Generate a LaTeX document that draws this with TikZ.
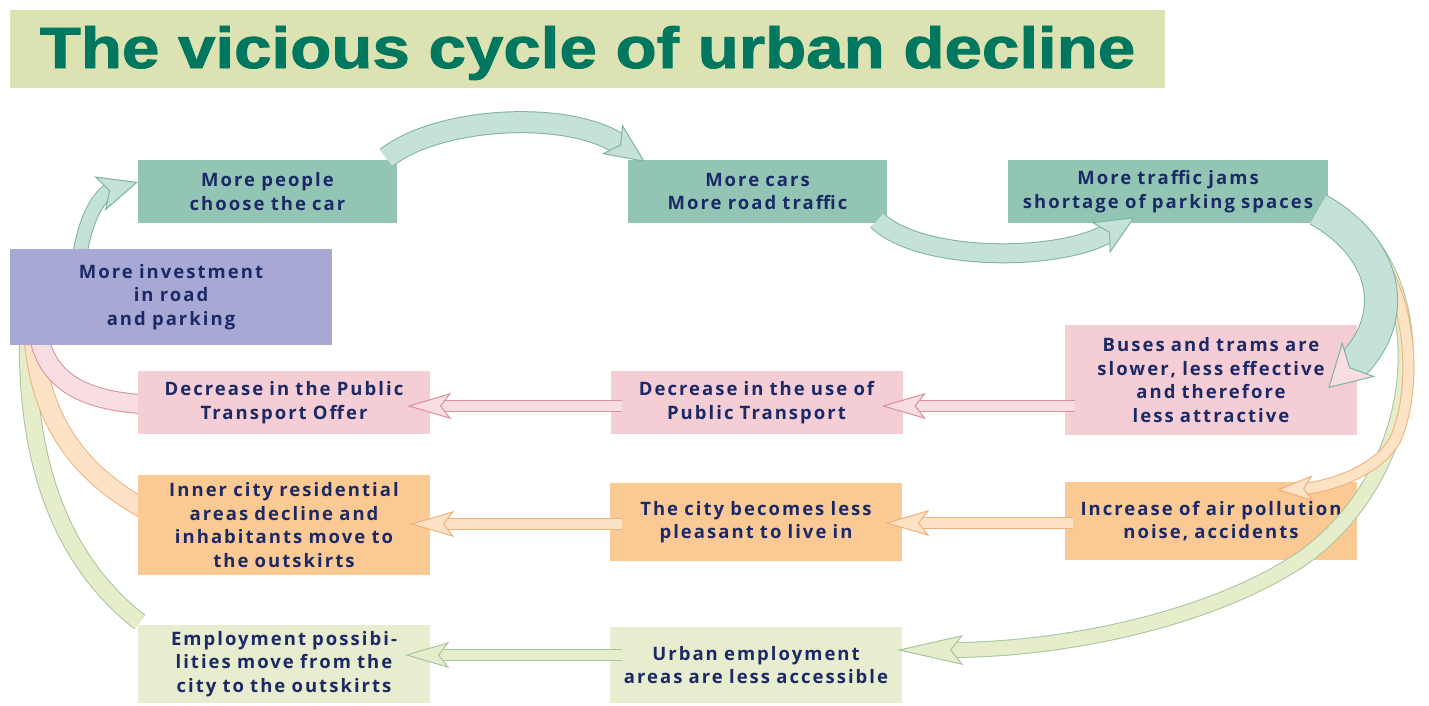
\documentclass[tikz,border=0pt]{standalone}
\usepackage{fontspec}
\usetikzlibrary{arrows.meta,backgrounds}
\newfontfamily\boxfamily{Open Sans}[LetterSpace=11,WordSpace=1.7]
\newfontfamily\titlefamily{Liberation Sans Bold}[FakeBold=1.5]
\definecolor{navy}{HTML}{1B2A66}
\definecolor{titlegreen}{HTML}{00785F}
\definecolor{titlebg}{HTML}{DCE2B2}
\definecolor{tealbox}{HTML}{93C5B4}
\definecolor{lilacbox}{HTML}{A8A8D4}
\definecolor{pinkbox}{HTML}{F5CDD4}
\definecolor{orangebox}{HTML}{FBC994}
\definecolor{greenbox}{HTML}{E9EDCF}
\definecolor{tealedge}{HTML}{7FB2A2}
\definecolor{tealfill}{HTML}{C4E2D8}
\definecolor{pinkedge}{HTML}{D98FA0}
\definecolor{pinkfill}{HTML}{F8DDE3}
\definecolor{orangeedge}{HTML}{EFB07A}
\definecolor{orangefill}{HTML}{FDE3C6}
\definecolor{greenedge}{HTML}{A9C4A0}
\definecolor{greenfill}{HTML}{E6EDCB}

\begin{document}
\begin{tikzpicture}[x=1pt,y=-1pt,
  box/.style={rectangle,inner sep=0pt,align=center,text=navy,
    font=\boxfamily\bfseries\fontsize{18.5}{23.5}\selectfont},
  wide/.style={minimum width=292pt,text width=286pt},
  ribbon/.style={draw=#1edge,double=#1fill,line width=1pt},
  bighead/.style={-{Stealth[length=40pt,width=36pt,inset=10pt,line width=1pt,fill=#1fill]}},
  flathead/.style={-{Stealth[length=44pt,width=26pt,inset=10pt,line width=1pt,fill=#1fill]}}]
  \useasboundingbox (0,0) rectangle (1429,705);
  \node[fill=titlebg,minimum width=1155pt,minimum height=78pt,inner sep=0pt,text=titlegreen,
    font=\titlefamily\fontsize{58}{60}\selectfont] (title) at (587.5,49)
    {\raisebox{-19pt}[0pt][0pt]{\scalebox{1.16}[1]{The vicious cycle of urban decline}}};

  \node[box,fill=tealbox,minimum width=259pt,minimum height=63pt,text width=253pt] (people) at (267.5,191.5) {More people\\choose the car};
  \node[box,fill=tealbox,minimum width=259pt,minimum height=63pt,text width=253pt] (cars) at (757.5,191.5) {More cars\\More road traffic};
  \node[box,fill=tealbox,minimum width=320pt,minimum height=63pt,text width=316pt] (jams) at (1168,191.5) {More traffic jams\\shortage of parking spaces};
  \node[box,fill=lilacbox,minimum width=322pt,minimum height=96pt,text width=316pt] (invest) at (171,297) {More investment\\in road\\and parking};
  \node[box,wide,fill=pinkbox,minimum height=110pt] (buses) at (1211,380) {Buses and trams are\\slower, less effective\\and therefore\\less attractive};
  \node[box,wide,fill=pinkbox,minimum height=63pt] (usept) at (756.5,402.5) {Decrease in the use of\\Public Transport};
  \node[box,wide,fill=pinkbox,minimum height=63pt] (offer) at (284,402.5) {Decrease in the Public\\Transport Offer};
  \node[box,wide,fill=orangebox,minimum height=78pt] (pollution) at (1211,521) {Increase of air pollution\\noise, accidents};
  \node[box,wide,fill=orangebox,minimum height=78pt] (pleasant) at (756,522) {The city becomes less\\pleasant to live in};
  \node[box,wide,fill=orangebox,minimum height=100pt] (inner) at (284,525) {Inner city residential\\areas decline and\\inhabitants move to\\the outskirts};
  \node[box,wide,fill=greenbox,minimum height=76pt] (urban) at (756,665) {Urban employment\\areas are less accessible};
  \node[box,wide,fill=greenbox,minimum height=78pt] (jobs) at (284,664) {Employment possibi-\\lities move from the\\city to the outskirts};

  \begin{pgfonlayer}{background}
    \draw[ribbon=green,double distance=16pt] ([shift={(2,-42)}]jobs.west) .. controls (60,560) and (25,460) .. ([shift={(-143,-15)}]invest.south);
    \draw[ribbon=orange,double distance=18pt] ([shift={(12,-13)}]inner.west) .. controls (70,470) and (38,410) .. ([shift={(-138,-15)}]invest.south);
    \draw[ribbon=pink,double distance=18pt] ([shift={(12,2)}]offer.west) .. controls (90,402) and (45,385) .. ([shift={(-133,-15)}]invest.south);
    \draw[ribbon=teal,double distance=13pt,bighead=teal] ([shift={(-93,20)}]invest.north) .. controls (84,210) and (105,192) .. ([shift={(0,-9.5)}]people.west);
  \end{pgfonlayer}

  \draw[ribbon=teal,double distance=20pt,bighead=teal] ([shift={(-11,-2)}]people.north east) .. controls (440,116) and (570,110) .. ([shift={(17,2)}]cars.north west);
  \draw[ribbon=teal,double distance=18pt,bighead=teal] ([shift={(-10,-3)}]cars.south east) .. controls (920,262) and (1060,262) .. ([shift={(127,-6)}]jams.south west);
  \draw[ribbon=green,double distance=14pt,-{Stealth[length=66pt,width=30pt,inset=12pt,line width=1pt,fill=greenfill]}] ([shift={(2,16.5)}]jams.east) .. controls (1440,270) and (1430,470) .. (1300,560) .. controls (1200,625) and (1050,650) .. ([shift={(-5,-15)}]urban.east);
  \draw[ribbon=orange,double distance=10pt,-{Stealth[length=36pt,width=26pt,inset=9pt,line width=1pt,fill=orangefill]}] ([shift={(2,16.5)}]jams.east) .. controls (1420,265) and (1418,390) .. (1395,440) .. controls (1375,475) and (1320,488) .. ([shift={(-80,8)}]pollution.north east);
  \draw[ribbon=teal,double distance=32pt,-{Stealth[length=42pt,width=48pt,inset=12pt,line width=1pt,fill=pinkfill]}] ([shift={(-10,18)}]jams.east) .. controls (1390,250) and (1400,320) .. ([shift={(-29,8)}]buses.east);

  \draw[ribbon=pink,double distance=10pt,flathead=pink] ([shift={(10,26)}]buses.west) -- ([shift={(-21,3.5)}]usept.east);
  \draw[ribbon=pink,double distance=10pt,flathead=pink] ([shift={(12,3.5)}]usept.west) -- ([shift={(-23,3.5)}]offer.east);
  \draw[ribbon=orange,double distance=10pt,flathead=orange] ([shift={(8,2)}]pollution.west) -- ([shift={(-17,1)}]pleasant.east);
  \draw[ribbon=orange,double distance=10pt,flathead=orange] ([shift={(12,2)}]pleasant.west) -- ([shift={(-20,-1)}]inner.east);
  \draw[ribbon=green,double distance=10pt,flathead=green] ([shift={(12,-10)}]urban.west) -- ([shift={(-25,-9)}]jobs.east);
\end{tikzpicture}
\end{document}
